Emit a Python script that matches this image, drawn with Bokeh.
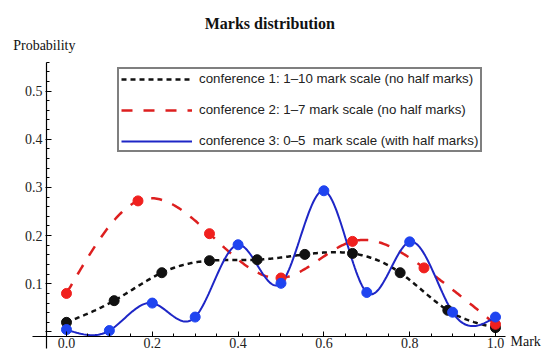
import numpy as np
from bokeh.plotting import figure
from bokeh.models import Range1d, FixedTicker, PrintfTickFormatter, Label, Legend, LegendItem
from bokeh.embed import file_html
from bokeh.resources import INLINE

# ---- data ----
marks1 = [1, 2, 3, 4, 5, 6, 7, 8, 9, 10]
prob1 = [0.020, 0.065, 0.123, 0.148, 0.150, 0.161, 0.163, 0.123, 0.045, 0.009]

marks2 = [1, 2, 3, 4, 5, 6, 7]
prob2 = [0.080, 0.272, 0.204, 0.112, 0.188, 0.133, 0.016]

marks3 = [0, 0.5, 1, 1.5, 2, 2.5, 3, 3.5, 4, 4.5, 5]
prob3 = [0.005, 0.003, 0.060, 0.031, 0.181, 0.101, 0.293, 0.082, 0.187, 0.041, 0.031]

labels = [
    "conference 1: 1\u201310 mark scale (no half marks)",
    "conference 2: 1\u20137 mark scale (no half marks)",
    "conference 3: 0\u20135  mark scale (with half marks)",
]
x_ticks = [0.0, 0.2, 0.4, 0.6, 0.8, 1.0]
y_ticks = [0.1, 0.2, 0.3, 0.4, 0.5]

# normalised mark positions
x1 = [(m - 1) / 9 for m in marks1]
x2 = [(m - 1) / 6 for m in marks2]
x3 = [m / 5 for m in marks3]


def natural_spline(xs, ys, n=300):
    xs = np.asarray(xs, float)
    ys = np.asarray(ys, float)
    k = len(xs)
    h = np.diff(xs)
    A = np.zeros((k, k))
    b = np.zeros(k)
    A[0, 0] = 1.0
    A[-1, -1] = 1.0
    for i in range(1, k - 1):
        A[i, i - 1] = h[i - 1]
        A[i, i] = 2 * (h[i - 1] + h[i])
        A[i, i + 1] = h[i]
        b[i] = 6 * ((ys[i + 1] - ys[i]) / h[i] - (ys[i] - ys[i - 1]) / h[i - 1])
    M = np.linalg.solve(A, b)
    xx = np.linspace(xs[0], xs[-1], n)
    idx = np.clip(np.searchsorted(xs, xx) - 1, 0, k - 2)
    x0, x1_ = xs[idx], xs[idx + 1]
    hh = x1_ - x0
    t0 = x1_ - xx
    t1 = xx - x0
    yy = (M[idx] * t0 ** 3 / (6 * hh) + M[idx + 1] * t1 ** 3 / (6 * hh)
          + (ys[idx] / hh - M[idx] * hh / 6) * t0
          + (ys[idx + 1] / hh - M[idx + 1] * hh / 6) * t1)
    return xx, yy


p = figure(width=543, height=354, output_backend="svg", toolbar_location=None,
           x_range=Range1d(-0.1538, 1.1119), y_range=Range1d(-0.0467, 0.6878),
           min_border_left=0, min_border_right=0, min_border_top=0, min_border_bottom=0)
p.outline_line_color = None
p.grid.visible = False
p.background_fill_color = "white"
p.border_fill_color = "white"

serif = "Liberation Serif"

# axes in Mathematica style (crossing inside the frame)
p.xaxis.fixed_location = -0.009
p.yaxis.fixed_location = -0.0466
p.xaxis.bounds = (-0.0793, 1.0233)
p.yaxis.bounds = (-0.034, 0.56)
p.xaxis.ticker = FixedTicker(ticks=x_ticks, minor_ticks=[i * 0.05 for i in range(21)])
p.yaxis.ticker = FixedTicker(ticks=[0.0] + y_ticks, minor_ticks=[i * 0.02 for i in range(29)])
p.xaxis.formatter = PrintfTickFormatter(format="%.1f")
p.yaxis.formatter = PrintfTickFormatter(format="%.1f")
p.yaxis.major_label_overrides = {0.0: "", 0: ""}
for ax in (p.xaxis, p.yaxis):
    ax.axis_line_color = "black"
    ax.axis_line_width = 1.2
    ax.major_tick_in = 5
    ax.major_tick_out = 1
    ax.minor_tick_in = 3
    ax.minor_tick_out = 0
    ax.major_tick_line_color = "black"
    ax.minor_tick_line_color = "black"
    ax.major_label_text_font = serif
    ax.major_label_text_font_size = "14px"
    ax.major_label_text_color = "#222222"
p.xaxis.major_tick_out = 0
p.xaxis.major_label_standoff = 2
p.yaxis.major_label_standoff = 3

black_line = "#111111"
red_line = "#dd1f1f"
red_pt = "#f0201e"
blue_line = "#1e26c6"
blue_pt = "#1f44f0"

sx1, sy1 = natural_spline(x1, prob1)
sx2, sy2 = natural_spline(x2, prob2)
sx3, sy3 = natural_spline(x3, prob3)

l1 = p.line(sx1, sy1, line_color=black_line, line_width=2.5, line_dash="5 4")
l2 = p.line(sx2, sy2, line_color=red_line, line_width=2.5, line_dash="11 11")
l3 = p.line(sx3, sy3, line_color=blue_line, line_width=2)

p.scatter(x1, prob1, size=10, fill_color="#111111", line_color="#111111")
p.scatter(x2, prob2, size=10, fill_color=red_pt, line_color=red_pt)
p.scatter(x3, prob3, size=10, fill_color=blue_pt, line_color=blue_pt)

legend = Legend(items=[LegendItem(label=labels[0], renderers=[l1]),
                       LegendItem(label=labels[1], renderers=[l2]),
                       LegendItem(label=labels[2], renderers=[l3])],
                location=(117, 202), orientation="vertical")
legend.border_line_color = "black"
legend.border_line_width = 2
legend.background_fill_color = "white"
legend.background_fill_alpha = 1
legend.label_text_font = "Liberation Sans"
legend.label_text_font_size = "13.3px"
legend.label_text_color = "#222222"
legend.glyph_width = 71
legend.glyph_height = 10
legend.label_height = 10
legend.label_standoff = 7
legend.spacing = 16
legend.padding = 2
legend.margin = 0
p.add_layout(legend)

p.add_layout(Label(x=0.474, y=0.641, text="Marks distribution", text_font=serif,
                   text_font_style="bold", text_font_size="16px", text_align="center",
                   text_baseline="middle", text_color="#111111"))
p.add_layout(Label(x=-0.1242, y=0.5944, text="Probability", text_font=serif,
                   text_font_size="14px", text_align="left", text_baseline="middle",
                   text_color="#111111"))
p.add_layout(Label(x=1.035, y=-0.019, text="Mark", text_font=serif,
                   text_font_size="14px", text_align="left", text_baseline="middle",
                   text_color="#111111"))

open("out.html", "w").write(file_html(p, INLINE))
